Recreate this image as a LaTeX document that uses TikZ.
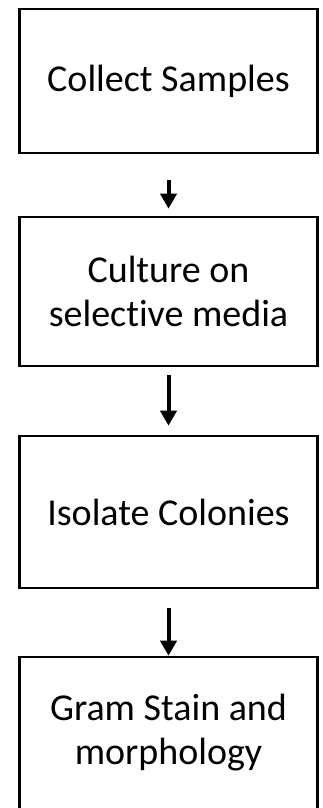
\documentclass[tikz,border=0pt]{standalone}
\usepackage{fontspec}
\setmainfont[Ligatures=NoCommon]{Carlito}
\usetikzlibrary{arrows.meta}

\begin{document}
\begin{tikzpicture}[x=1pt,y=-1pt,
  stage/.style={draw,line width=2.6pt,inner sep=0pt,minimum width=298pt,
    align=center,font=\fontsize{38}{44}\selectfont},
  flow/.style={line width=4pt,-{Triangle[length=15pt,width=16pt]}}]
\useasboundingbox (0,0) rectangle (322,808);
% ---------- boxes ----------
\node[stage,minimum height=144pt] (collect) at (168.5,81) {Collect Samples};
\node[stage,minimum height=149pt] (culture) at (168.5,291.5) {Culture on\\selective media};
\node[stage,minimum height=152pt] (isolate) at (168.5,512) {Isolate Colonies};
\node[stage,minimum height=152pt] (gram) at (168.5,733) {Gram Stain and\\morphology};
% ---------- arrows ----------
\draw[flow,shorten <=26pt,shorten >=7pt] (collect.south) -- (culture.north);
\draw[flow,shorten <=8pt,shorten >=9pt] (culture.south) -- (isolate.north);
\draw[flow,shorten <=19pt] (isolate.south) -- (gram.north);
\end{tikzpicture}
\end{document}
